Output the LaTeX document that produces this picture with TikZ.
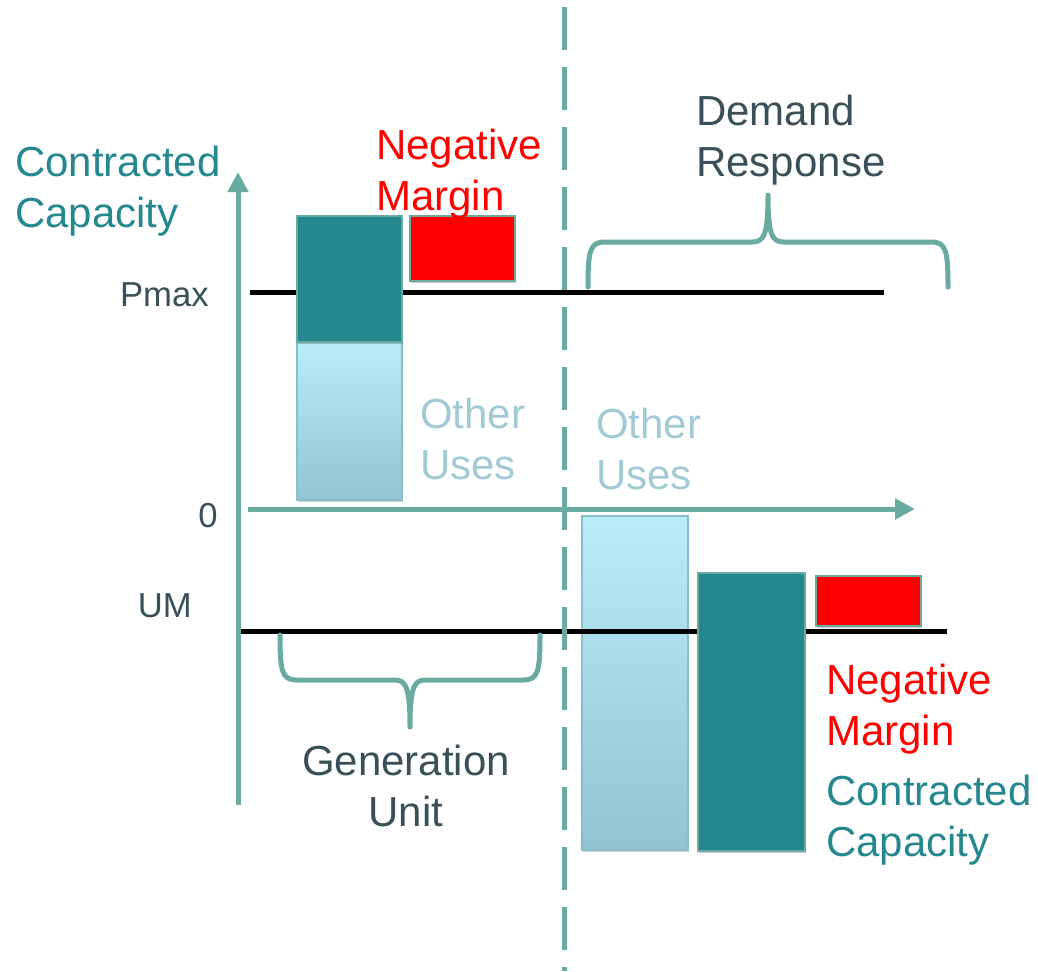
\documentclass[tikz,border=0pt]{standalone}
\usepackage{fontspec}
\setmainfont{Liberation Sans}
\usetikzlibrary{arrows.meta,fit,shadows}

\definecolor{axisteal}{HTML}{6AABA0}
\definecolor{darkteal}{HTML}{25888F}
\definecolor{lightTop}{HTML}{B8EEFA}
\definecolor{lightBot}{HTML}{90C4D2}
\definecolor{slate}{HTML}{3B4F59}
\definecolor{paleuse}{HTML}{A2CAD4}
\definecolor{negred}{HTML}{FF0000}

\tikzset{
  soft/.style={drop shadow={shadow xshift=1pt,shadow yshift=-1.2pt,opacity=0.2,fill=black}},
  axisline/.style={draw=axisteal,line width=3.75pt,-{Triangle[length=15pt,width=15pt]}},
  levelline/.style={draw=black,line width=3.75pt},
  divider/.style={draw=axisteal,line width=3.75pt,dash pattern=on 32.25pt off 12.75pt},
  bracket/.style={draw=axisteal,line width=3.75pt,line cap=round,line join=round},
  capbox/.style={fill=darkteal,draw=axisteal,line width=0.8pt,inner sep=0pt,soft},
  usebox/.style={top color=lightTop,bottom color=lightBot,draw=lightBot!80!axisteal,line width=0.8pt,inner sep=0pt,soft},
  marginbox/.style={fill=negred,draw=axisteal,line width=0.8pt,inner sep=0pt,soft},
  bigtext/.style={inner sep=0pt,align=left,font=\fontsize{31.5pt}{38.25pt}\selectfont},
  ticktext/.style={inner sep=0pt,text=slate,font=\fontsize{26pt}{30pt}\selectfont},
}

\begin{document}
\begin{tikzpicture}[x=0.75pt,y=-0.75pt]
  \useasboundingbox[fill=white] (0,0) rectangle (1038,971);

  % demand-response stack, drawn first so the UM level crosses it
  \node[usebox,fit={(582,516) (688,850)}] (druse) {};

  % reference levels
  \coordinate (pmaxL) at (250,292);
  \coordinate (pmaxR) at (884,292);
  \coordinate (umL) at (240,631);
  \coordinate (umR) at (947,631);
  \draw[levelline] (pmaxL) -- (pmaxR);
  \draw[levelline] (umL) -- (umR);

  % axes
  \coordinate (vaxB) at (238,805);
  \coordinate (vaxT) at (238,172);
  \coordinate (haxL) at (248,509);
  \coordinate (haxR) at (915,509);
  \draw[axisline] (vaxB) -- (vaxT);
  \draw[axisline] (haxL) -- (haxR);

  % divider between generation and demand response
  \coordinate (divT) at (564,7);
  \coordinate (divB) at (564,971);
  \draw[divider] (divT) -- (divB);

  % generation unit stack
  \node[usebox,fit={(297,342) (402,500)}] (genuse) {};
  \node[capbox,fit={(297,216) (402,342)}] (gencap) {};
  \node[marginbox,fit={(410,216) (515,281)}] (genmargin) {};

  % demand response capacity and margin
  \node[capbox,fit={(698,573) (805,851)}] (drcap) {};
  \node[marginbox,fit={(816,576) (921,626)}] (drmargin) {};

  % braces
  \draw[bracket] (588,287) .. controls (588,250) and (590,242) .. (605,242)
    -- (752,242) .. controls (764,242) and (768,235) .. (768,195)
    .. controls (768,235) and (772,242) .. (784,242)
    -- (931,242) .. controls (946,242) and (948,250) .. (948,287);
  \draw[bracket] (280,635) .. controls (280,672) and (282,680) .. (297,680)
    -- (395,680) .. controls (406,680) and (410,688) .. (410,727)
    .. controls (410,688) and (414,680) .. (425,680)
    -- (523,680) .. controls (538,680) and (540,672) .. (540,635);

  % tick labels
  \node[ticktext,anchor=east] (pmax) at (209,295) {Pmax};
  \node[ticktext,anchor=east] (zero) at (218,516) {0};
  \node[ticktext,anchor=east] (um) at (192,606) {UM};

  % text labels
  \node[bigtext,text=darkteal,anchor=north west] (ccleft) at (15,146) {Contracted\\Capacity};
  \node[bigtext,text=negred,anchor=north west] (nmtop) at (376,129) {Negative\\Margin};
  \node[bigtext,text=slate,anchor=north west] (dr) at (696,95) {Demand\\Response};
  \node[bigtext,text=paleuse,anchor=north west] (ouleft) at (420,398) {Other\\Uses};
  \node[bigtext,text=paleuse,anchor=north west] (ouright) at (596,408) {Other\\Uses};
  \node[bigtext,text=slate,align=center,anchor=north] (gu) at (406,745) {Generation\\Unit};
  \node[bigtext,text=negred,anchor=north west] (nmbot) at (826,664) {Negative\\Margin};
  \node[bigtext,text=darkteal,anchor=north west] (ccright) at (826,775) {Contracted\\Capacity};
\end{tikzpicture}
\end{document}
